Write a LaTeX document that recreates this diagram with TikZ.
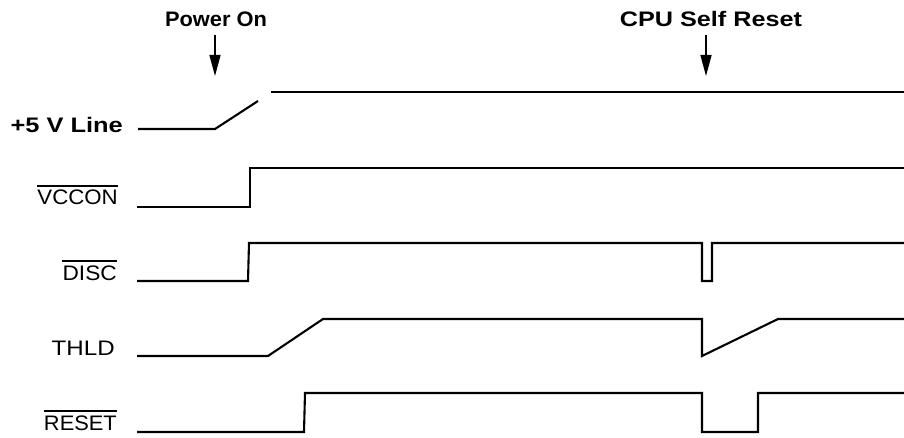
\documentclass[tikz,border=0pt]{standalone}
\usepackage{fontspec}
\setmainfont{Liberation Sans}
\usetikzlibrary{arrows.meta}
\newcommand{\hsx}[2]{\scalebox{#1}[1]{#2}}
\begin{document}
\begin{tikzpicture}[x=1pt,y=-1pt,
  title/.style={font=\fontsize{21}{21}\selectfont\bfseries, inner sep=0pt, anchor=base},
  siglabel/.style={font=\fontsize{21}{21}\selectfont, inner sep=0pt, anchor=base east},
  boldlabel/.style={font=\fontsize{21}{21}\selectfont\bfseries, inner sep=0pt, anchor=base east},
  wave/.style={line width=2.1pt, line join=miter},
  wavethick/.style={line width=2.6pt},
  marker/.style={line width=1.4pt, -{Triangle[length=21pt,width=11pt]}},
  ovl/.style={line width=1.4pt}]
\useasboundingbox (0,0) rectangle (904,438);

% titles and markers
\node[title] (pon) at (216,27) {\hsx{1.04}{Power On}};
\node[title] (csr) at (711,27) {\hsx{1.2}{CPU Self Reset}};
\coordinate (pa1) at (215,35);
\coordinate (pa2) at (215,76);
\coordinate (ca1) at (706,35);
\coordinate (ca2) at (706,76);
\draw[marker] (pa1) -- (pa2);
\draw[marker] (ca1) -- (ca2);

% labels
\node[boldlabel] (l5v) at (123,133) {\hsx{1.21}{+5 V Line}};
\node[siglabel] (lvcc) at (118,205) {\hsx{1.06}{VCCON}};
\node[siglabel] (ldisc) at (117,280) {\hsx{1.08}{DISC}};
\node[siglabel] (lthld) at (115,355) {\hsx{1.15}{THLD}};
\node[siglabel] (lrst) at (117,430) {\hsx{1.04}{RESET}};
\draw[ovl] ([yshift=4pt]lvcc.north west) -- ([yshift=4pt]lvcc.north east);
\draw[ovl] ([yshift=4pt]ldisc.north west) -- ([yshift=4pt]ldisc.north east);
\draw[ovl] ([yshift=4pt]lrst.north west) -- ([yshift=4pt]lrst.north east);

% waveforms
\draw[wave] (138,129) -- (215,129) -- (258,101);
\draw[wavethick] (271,92) -- (904,92);
\draw[wave] (137,207) -- (250,207) -- (250,168) -- (904,168);
\draw[wave] (137,281) -- (248,281) -- (249,243) -- (702,243) -- (702,281) -- (712,281) -- (712,243) -- (904,243);
\draw[wave] (137,356) -- (268,356) -- (323,319) -- (702,319) -- (702,356) -- (778,319) -- (904,319);
\draw[wave] (137,432) -- (304,432) -- (305,393) -- (702,393) -- (702,432) -- (758,432) -- (758,393) -- (904,393);
\end{tikzpicture}
\end{document}
